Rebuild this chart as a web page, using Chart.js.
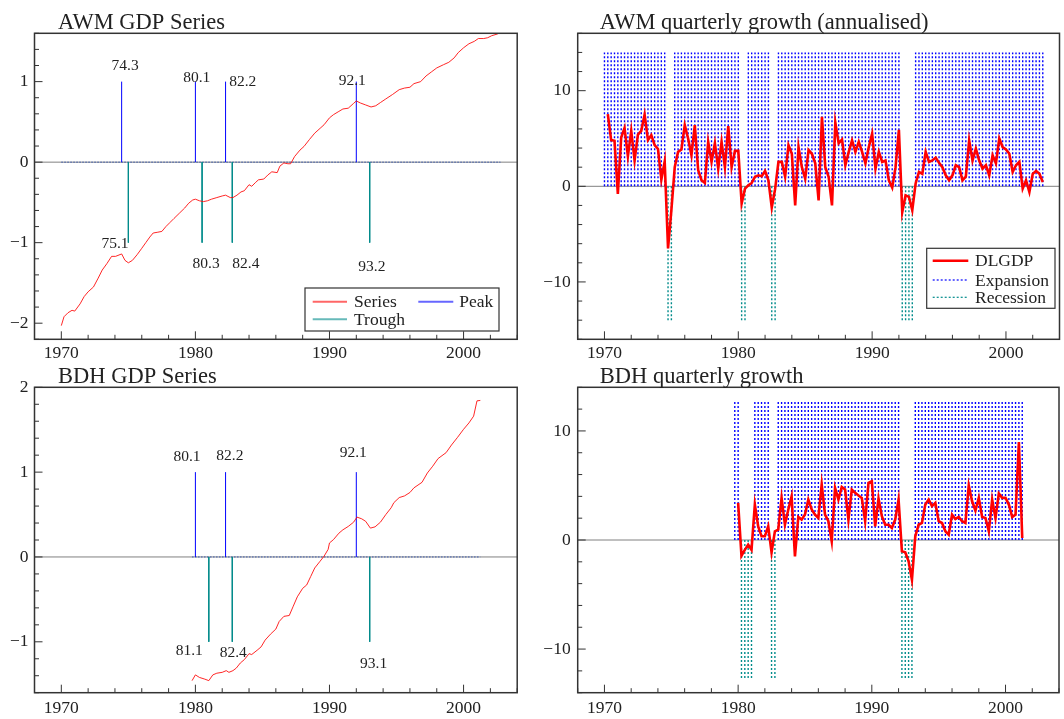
<!DOCTYPE html>
<html>
<head>
<meta charset="utf-8">
<title>AWM and BDH business cycles</title>
<script src="https://cdn.jsdelivr.net/npm/chart.js@4.4.1/dist/chart.umd.min.js"></script>
<style>
    body { margin: 0; background: #fff; }
    #wrap { position: relative; width: 1064px; height: 719px; overflow: hidden; }
    canvas { position: absolute; }
</style>
</head>
<body>
<div id="wrap">
    <canvas id="awmLevel" width="540" height="360" style="left:0;top:0"></canvas>
    <canvas id="awmGrowthChart" width="524" height="360" style="left:540px;top:0"></canvas>
    <canvas id="bdhLevel" width="540" height="359" style="left:0;top:360px"></canvas>
    <canvas id="bdhGrowthChart" width="524" height="359" style="left:540px;top:360px"></canvas>
</div>
<script>
// ---- data ----
const awmGdpYears = [1970.0, 1970.2, 1970.5, 1970.8, 1971.0, 1971.4, 1971.7, 1972.0, 1972.4, 1972.75, 1973.05, 1973.4, 1973.75, 1974.05, 1974.5, 1974.75, 1975.0, 1975.3, 1975.65, 1976.0, 1976.3, 1976.6, 1976.85, 1977.2, 1977.5, 1977.8, 1978.1, 1978.4, 1978.8, 1979.2, 1979.5, 1979.8, 1980.0, 1980.3, 1980.6, 1980.9, 1981.2, 1981.6, 1982.0, 1982.25, 1982.6, 1982.8, 1983.1, 1983.4, 1983.65, 1984.0, 1984.2, 1984.5, 1984.7, 1985.1, 1985.4, 1985.7, 1986.1, 1986.3, 1986.6, 1986.9, 1987.1, 1987.4, 1987.8, 1988.1, 1988.5, 1988.9, 1989.3, 1989.6, 1990.0, 1990.3, 1990.7, 1991.0, 1991.4, 1991.8, 1992.0, 1992.3, 1992.7, 1993.1, 1993.45, 1993.8, 1994.2, 1994.7, 1995.2, 1995.6, 1996.0, 1996.3, 1996.8, 1997.2, 1997.6, 1998.0, 1998.5, 1998.9, 1999.3, 1999.6, 2000.0, 2000.4, 2000.8, 2001.1, 2001.5, 2001.8, 2002.1, 2002.5, 2002.75];
const awmGdpValues = [-2.03, -1.92, -1.87, -1.84, -1.85, -1.76, -1.67, -1.61, -1.55, -1.44, -1.34, -1.26, -1.17, -1.17, -1.14, -1.22, -1.25, -1.22, -1.15, -1.07, -1.0, -0.93, -0.88, -0.87, -0.86, -0.80, -0.75, -0.70, -0.635, -0.57, -0.51, -0.47, -0.46, -0.48, -0.49, -0.48, -0.46, -0.44, -0.42, -0.41, -0.44, -0.44, -0.41, -0.37, -0.355, -0.28, -0.30, -0.25, -0.22, -0.21, -0.16, -0.12, -0.13, -0.05, -0.01, -0.02, -0.02, 0.07, 0.15, 0.195, 0.28, 0.36, 0.42, 0.465, 0.55, 0.59, 0.63, 0.66, 0.67, 0.73, 0.76, 0.735, 0.71, 0.685, 0.70, 0.74, 0.785, 0.84, 0.90, 0.92, 0.93, 0.975, 1.0, 1.07, 1.12, 1.17, 1.21, 1.24, 1.295, 1.36, 1.42, 1.47, 1.50, 1.535, 1.535, 1.545, 1.57, 1.59, 1.61];

const bdhGdpYears = [1979.75, 1980.0, 1980.3, 1980.7, 1981.0, 1981.3, 1981.6, 1982.0, 1982.3, 1982.5, 1982.8, 1983.05, 1983.35, 1983.65, 1984.0, 1984.2, 1984.6, 1984.9, 1985.2, 1985.6, 1986.0, 1986.25, 1986.6, 1987.0, 1987.3, 1987.6, 1988.0, 1988.3, 1988.6, 1988.9, 1989.3, 1989.6, 1989.9, 1990.0, 1990.3, 1990.7, 1991.0, 1991.4, 1991.8, 1992.05, 1992.4, 1992.7, 1993.05, 1993.4, 1993.8, 1994.2, 1994.6, 1994.8, 1995.2, 1995.6, 1996.0, 1996.3, 1996.9, 1997.3, 1997.7, 1998.1, 1998.7, 1999.1, 1999.55, 2000.0, 2000.4, 2000.75, 2001.0, 2001.25];
const bdhGdpValues = [-1.458, -1.39, -1.42, -1.44, -1.458, -1.39, -1.37, -1.36, -1.34, -1.36, -1.34, -1.31, -1.25, -1.21, -1.14, -1.15, -1.10, -1.06, -0.98, -0.91, -0.85, -0.76, -0.70, -0.69, -0.58, -0.47, -0.37, -0.33, -0.23, -0.13, -0.05, 0.01, 0.09, 0.165, 0.205, 0.28, 0.32, 0.36, 0.41, 0.47, 0.45, 0.42, 0.34, 0.355, 0.41, 0.50, 0.58, 0.64, 0.70, 0.72, 0.76, 0.815, 0.88, 0.99, 1.07, 1.16, 1.23, 1.32, 1.41, 1.505, 1.58, 1.66, 1.84, 1.845];

// quarterly growth, first value at the start date, one value per quarter
const awmGrowthStart = 1970.25;
const awmGrowth = [7.55, 4.83, 4.76, -0.8, 5.1, 6.1, 3.15, 5.8, 2.7, 5.4,
    5.8, 7.5, 4.85, 5.35, 4.3, 3.9, 0.7, 2.6, -6.5, -2.5,
    2.0, 3.6, 3.85, 6.4, 5.0, 3.25, 6.4, 1.7, 0.63, 0.35,
    4.65, 2.55, 4.5, 1.85, 4.65, 2.0, 6.3, 2.0, 3.7, 3.7,
    -1.8, -0.25, 0.1, 0.35, 1.0, 1.15, 1.05, 1.6, 0.63, -2.2,
    -0.3, 2.55, 2.55, 1.0, 4.3, 3.4, -2.0, 4.1, 2.0, 0.8,
    3.8, 3.4, 2.4, -1.47, 7.27, 2.0, 1.0, -2.0, 6.65, 4.5,
    4.9, 2.2, 3.6, 4.8, 3.6, 4.65, 3.6, 2.4, 4.1, 5.5,
    1.85, 3.6, 2.55, 2.7, 0.63, -0.14, 2.0, 5.9, -2.7, -0.95,
    -1.1, -2.5, 0.3, 1.5, 1.3, 3.6, 2.55, 2.7, 3.0, 2.45,
    2.0, 1.15, 0.63, 1.15, 2.2, 2.0, 0.63, 1.0, 4.8, 2.7,
    3.95, 2.7, 1.85, 2.2, 1.15, 3.25, 2.4, 5.0, 4.1, 3.85,
    3.4, 1.5, 2.2, 2.55, -0.25, 0.63, -0.6, 1.3, 1.6, 1.3, 0.45];

const bdhGrowthStart = 1980.0;
const bdhGrowth = [3.4, -1.44, -0.9, -0.43, -0.9, 3.25, 1.25, 0.34, 0.34, 1.25,
    -1.13, 0.8, 0.95, 3.86, 1.4, 2.78, 4.0, -1.5, 2.11, 1.87,
    2.33, 3.7, 2.8, 2.33, 2.02, 5.09, 2.33, 1.72, -0.12, 4.78,
    3.71, 4.86, 4.63, 1.87, 4.63, 4.32, 4.08, 3.86, 1.72, 5.24,
    5.39, 1.25, 3.8, 2.18, 1.4, 1.4, 1.1, 1.87, 3.7, -1.04,
    -1.13, -1.96, -3.65, 0.34, 1.4, 1.56, 3.25, 3.7, 3.1, 3.4,
    1.72, 1.56, 0.8, 0.49, 2.33, 1.93, 2.11, 1.72, 1.56, 5.0,
    3.55, 2.7, 3.86, 2.11, 2.02, 0.8, 3.7, 2.02, 4.26, 3.86,
    3.86, 3.25, 2.11, 2.33, 8.98, 0.18];

// turning points (dates as year + (quarter-1)/4)
const awmSample = [1970.0, 2002.75];
const awmPeaks = [1974.5, 1980.0, 1982.25, 1992.0];
const awmTroughs = [1975.0, 1980.5, 1982.75, 1993.0];
const awmPeakLabels = ['74.3', '80.1', '82.2', '92.1'];
const awmTroughLabels = ['75.1', '80.3', '82.4', '93.2'];
const awmPeakLabelX = [1974.76, 1980.10, 1983.53, 1991.70];
const awmPeakLabelY = [1.20, 1.04, 1.00, 1.01];
const awmTroughLabelX = [1974.0, 1980.80, 1983.76, 1993.16];
const awmTroughLabelY = [-1.02, -1.26, -1.26, -1.30];

const bdhSample = [1979.75, 2001.25];
const bdhPeaks = [1980.0, 1982.25, 1992.0];
const bdhTroughs = [1981.0, 1982.75, 1993.0];
const bdhPeakLabels = ['80.1', '82.2', '92.1'];
const bdhTroughLabels = ['81.1', '82.4', '93.1'];
const bdhPeakLabelX = [1979.37, 1982.57, 1991.77];
const bdhPeakLabelY = [1.18, 1.19, 1.23];
const bdhTroughLabelX = [1979.54, 1982.82, 1993.29];
const bdhTroughLabelY = [-1.11, -1.135, -1.26];

const awmBand = 14;      // height of the expansion / recession markers
const bdhBand = 12.75;

// ---- helpers ----
const SERIF = "'Liberation Serif', 'Times New Roman', serif";
const INK = '#222';
const RED = '#ff0000';
const BLUE = '#0000ff';
const TEAL = '#008b8b';

function zip(xs, ys) {
    return xs.map((x, i) => ({ x: x, y: ys[i] }));
}

function quarterly(start, values) {
    return values.map((v, i) => ({ x: start + i / 4, y: v }));
}

// vertical strokes from y0 to y1 at each x, broken by gaps
function impulses(xs, y0, y1) {
    const pts = [];
    xs.forEach(x => {
        pts.push({ x: x, y: y0 }, { x: x, y: y1 }, { x: x, y: null });
    });
    return pts;
}

function cycleQuarters(sample, peaks, troughs) {
    const exp = [], rec = [];
    const n0 = Math.round(sample[0] * 4), n1 = Math.round(sample[1] * 4);
    for (let n = n0; n <= n1; n++) {
        const q = n / 4;
        const inRec = peaks.some((p, i) => q > p && q <= troughs[i]);
        (inRec ? rec : exp).push(q);
    }
    return { exp, rec };
}

function stepTicks(lo, hi, step) {
    const out = [];
    for (let i = Math.round(lo / step); i <= Math.round(hi / step); i++) {
        out.push({ value: +(i * step).toFixed(4) });
    }
    return out;
}

function fmt(v) {
    return v < 0 ? '\u2212' + Math.abs(v) : String(v);
}

function makePanel(id, spec) {
    const decor = {
        id: 'decor',
        beforeDatasetsDraw(chart) {
            const ctx = chart.ctx, ca = chart.chartArea;
            const y0 = chart.scales.y.getPixelForValue(0);
            ctx.save();
            ctx.strokeStyle = '#808080';
            ctx.lineWidth = 1;
            ctx.beginPath();
            ctx.moveTo(ca.left, y0);
            ctx.lineTo(ca.right, y0);
            ctx.stroke();
            ctx.restore();
        },
        afterDraw(chart) {
            const ctx = chart.ctx, ca = chart.chartArea;
            const xs = chart.scales.x, ys = chart.scales.y;
            ctx.save();

            // inward tick marks on left and bottom
            ctx.strokeStyle = '#333';
            ctx.lineWidth = 1;
            ctx.beginPath();
            xs.ticks.forEach(t => {
                const px = xs.getPixelForValue(t.value);
                const len = t.label ? 8 : 4.5;
                ctx.moveTo(px, ca.bottom);
                ctx.lineTo(px, ca.bottom - len);
            });
            ys.ticks.forEach(t => {
                const py = ys.getPixelForValue(t.value);
                const len = t.label ? 8 : 4.5;
                ctx.moveTo(ca.left, py);
                ctx.lineTo(ca.left + len, py);
            });
            ctx.stroke();

            // frame
            ctx.lineWidth = 1.5;
            ctx.strokeRect(ca.left, ca.top, ca.right - ca.left, ca.bottom - ca.top);

            // title
            ctx.fillStyle = INK;
            ctx.font = '22.5px ' + SERIF;
            ctx.textAlign = 'left';
            ctx.textBaseline = 'alphabetic';
            ctx.fillText(spec.title, spec.titleX, spec.titleY);

            // turning point labels
            ctx.font = '15.5px ' + SERIF;
            ctx.textAlign = 'center';
            ctx.textBaseline = 'middle';
            (spec.notes || []).forEach(n => {
                ctx.fillText(n.text, xs.getPixelForValue(n.x), ys.getPixelForValue(n.y));
            });

            // legend
            const lg = spec.legend;
            if (lg) {
                ctx.fillStyle = '#fff';
                ctx.fillRect(lg.box[0], lg.box[1], lg.box[2] - lg.box[0], lg.box[3] - lg.box[1]);
                ctx.strokeStyle = '#333';
                ctx.lineWidth = 1.2;
                ctx.strokeRect(lg.box[0], lg.box[1], lg.box[2] - lg.box[0], lg.box[3] - lg.box[1]);
                ctx.font = '17.5px ' + SERIF;
                ctx.textAlign = 'left';
                ctx.textBaseline = 'middle';
                lg.items.forEach(it => {
                    ctx.strokeStyle = it.color;
                    ctx.lineWidth = it.width;
                    ctx.setLineDash(it.dash || []);
                    ctx.beginPath();
                    ctx.moveTo(it.x1, it.y);
                    ctx.lineTo(it.x2, it.y);
                    ctx.stroke();
                    ctx.setLineDash([]);
                    ctx.fillStyle = INK;
                    ctx.fillText(it.label, it.tx, it.y + 1);
                });
            }
            ctx.restore();
        }
    };

    return new Chart(document.getElementById(id), {
        type: 'line',
        data: { datasets: spec.datasets },
        options: {
            responsive: false,
            animation: false,
            events: [],
            layout: { padding: { left: 0, top: spec.top, right: spec.right, bottom: 0 } },
            plugins: {
                legend: { display: false },
                tooltip: { enabled: false },
                title: { display: false }
            },
            elements: { point: { radius: 0 }, line: { tension: 0 } },
            scales: {
                x: {
                    type: 'linear',
                    min: 1968,
                    max: 2004,
                    grid: { display: false, drawTicks: false },
                    border: { display: false },
                    afterBuildTicks: s => { s.ticks = stepTicks(1968, 2004, 2); },
                    afterFit: s => { s.height = spec.xAxisHeight; },
                    ticks: {
                        autoSkip: false,
                        maxRotation: 0,
                        padding: spec.xPad,
                        color: INK,
                        font: { family: SERIF, size: 17.5 },
                        callback: v => (v % 10 === 0 ? String(v) : '')
                    }
                },
                y: {
                    type: 'linear',
                    min: spec.yMin,
                    max: spec.yMax,
                    grid: { display: false, drawTicks: false },
                    border: { display: false },
                    afterBuildTicks: s => { s.ticks = stepTicks(spec.yMin, spec.yMax, spec.yMinor); },
                    afterFit: s => { s.width = spec.yAxisWidth; },
                    ticks: {
                        autoSkip: false,
                        padding: spec.yPad,
                        color: INK,
                        font: { family: SERIF, size: 17.5 },
                        callback: v => {
                            const r = v / spec.yMajor;
                            return Math.abs(r - Math.round(r)) < 1e-6 ? fmt(Math.round(v * 1000) / 1000) : '';
                        }
                    }
                }
            }
        },
        plugins: [decor]
    });
}

function notes(xs, ys, texts) {
    return texts.map((t, i) => ({ text: t, x: xs[i], y: ys[i] }));
}

function levelDatasets(years, values, sample, peaks, troughs) {
    return [
        { label: 'Series', data: zip(years, values), borderColor: 'rgba(255,0,0,0.85)', borderWidth: 1, order: 0 },
        { label: 'Peak', data: impulses(peaks, 0, 1), borderColor: BLUE, borderWidth: 1, spanGaps: false, order: 1 },
        { label: 'Trough', data: impulses(troughs, 0, -1), borderColor: TEAL, borderWidth: 1, spanGaps: false, order: 2 },
        // the zero stretch of the peak / trough dummies over the sample
        { label: 'Dummy base', data: [{ x: sample[0], y: 0 }, { x: sample[1], y: 0 }], borderColor: 'rgba(20,60,170,0.8)', borderWidth: 1, borderDash: [1.5, 1.5], order: 3 }
    ];
}

function growthDatasets(start, values, sample, peaks, troughs, band) {
    const q = cycleQuarters(sample, peaks, troughs);
    return [
        { label: 'DLGDP', data: quarterly(start, values), borderColor: RED, borderWidth: 2.6, order: 0 },
        { label: 'Expansion', data: impulses(q.exp, 0, band), borderColor: BLUE, borderWidth: 1.4, borderDash: [2, 2], spanGaps: false, order: 1 },
        { label: 'Recession', data: impulses(q.rec, 0, -band), borderColor: TEAL, borderWidth: 1.4, borderDash: [2, 2], spanGaps: false, order: 2 }
    ];
}

// ---- top left: AWM GDP series ----
makePanel('awmLevel', {
    title: 'AWM GDP Series', titleX: 58, titleY: 29.3,
    top: 33.3, right: 22.8, yAxisWidth: 34.5, xAxisHeight: 20.7, xPad: 4, yPad: 6,
    yMin: -2.2, yMax: 1.6, yMinor: 0.2, yMajor: 1,
    datasets: levelDatasets(awmGdpYears, awmGdpValues, awmSample, awmPeaks, awmTroughs),
    notes: notes(awmPeakLabelX, awmPeakLabelY, awmPeakLabels)
        .concat(notes(awmTroughLabelX, awmTroughLabelY, awmTroughLabels)),
    legend: {
        box: [305, 288, 499, 331],
        items: [
            { label: 'Series', color: 'rgba(255,0,0,0.6)', width: 2, x1: 312.7, x2: 347, tx: 354, y: 301.7 },
            { label: 'Peak', color: 'rgba(0,0,255,0.6)', width: 2, x1: 418.3, x2: 453.3, tx: 459.3, y: 301.7 },
            { label: 'Trough', color: 'rgba(0,139,139,0.6)', width: 2, x1: 312.7, x2: 347, tx: 354, y: 319.3 }
        ]
    }
});

// ---- top right: AWM quarterly growth ----
makePanel('awmGrowthChart', {
    title: 'AWM quarterly growth (annualised)', titleX: 59.8, titleY: 29.3,
    top: 33.3, right: 4.5, yAxisWidth: 37.7, xAxisHeight: 20.7, xPad: 4, yPad: 7,
    yMin: -16, yMax: 16, yMinor: 2, yMajor: 10,
    datasets: growthDatasets(awmGrowthStart, awmGrowth, awmSample, awmPeaks, awmTroughs, awmBand),
    legend: {
        box: [386.7, 248.3, 515, 308.3],
        items: [
            { label: 'DLGDP', color: RED, width: 2.5, x1: 392.7, x2: 428.3, tx: 435, y: 260.7 },
            { label: 'Expansion', color: BLUE, width: 1.2, dash: [2, 2], x1: 392.7, x2: 428.3, tx: 435, y: 280 },
            { label: 'Recession', color: TEAL, width: 1.2, dash: [2, 2], x1: 392.7, x2: 428.3, tx: 435, y: 297.3 }
        ]
    }
});

// ---- bottom left: BDH GDP series ----
makePanel('bdhLevel', {
    title: 'BDH GDP Series', titleX: 58, titleY: 22.7,
    top: 27.3, right: 22.8, yAxisWidth: 34.5, xAxisHeight: 26.3, xPad: 5, yPad: 6,
    yMin: -1.6, yMax: 2.0, yMinor: 0.2, yMajor: 1,
    datasets: levelDatasets(bdhGdpYears, bdhGdpValues, bdhSample, bdhPeaks, bdhTroughs),
    notes: notes(bdhPeakLabelX, bdhPeakLabelY, bdhPeakLabels)
        .concat(notes(bdhTroughLabelX, bdhTroughLabelY, bdhTroughLabels))
});

// ---- bottom right: BDH quarterly growth ----
makePanel('bdhGrowthChart', {
    title: 'BDH quarterly growth', titleX: 59.8, titleY: 22.7,
    top: 27.3, right: 4.5, yAxisWidth: 37.7, xAxisHeight: 26.3, xPad: 5, yPad: 7,
    yMin: -14, yMax: 14, yMinor: 2, yMajor: 10,
    datasets: growthDatasets(bdhGrowthStart, bdhGrowth, bdhSample, bdhPeaks, bdhTroughs, bdhBand)
});
</script>
</body>
</html>
